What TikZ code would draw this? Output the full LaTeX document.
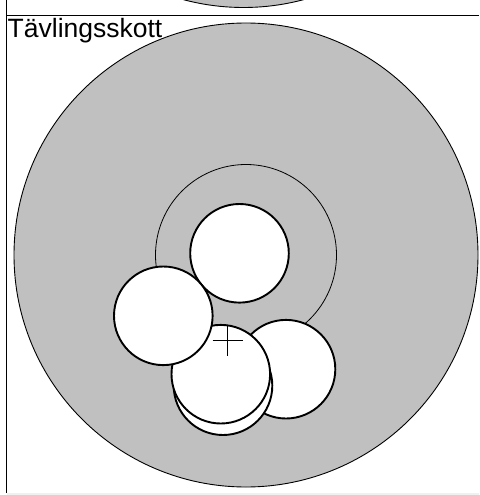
\documentclass[tikz,border=0pt]{standalone}
\usepackage{fontspec}
\setmainfont{Liberation Sans}
\definecolor{targetgray}{RGB}{192,192,192}
\definecolor{framegray}{RGB}{240,240,240}
\tikzset{
  target/.style={
    draw=black,
    fill=targetgray,
    line width=0.9pt,
  },
  ring/.style={
    draw=black,
    line width=0.8pt,
  },
  shot/.style={
    circle,
    draw=black,
    fill=white,
    line width=1.9pt,
    inner sep=0pt,
    minimum size=98.6pt,
  },
  mpicross/.style={draw=black, line width=0.9pt},
  frameline/.style={draw=black, line width=1.9pt},
  title/.style={font=\fontsize{26.5}{30}\selectfont, anchor=base west, inner sep=0pt},
}

\begin{document}
\begin{tikzpicture}[x=1pt, y=-1pt]
\useasboundingbox (0,0) rectangle (479,495);

% --- Previous target (bottom edge only) ---
\begin{scope}
  \clip (7,0) rectangle (479,15);
  \draw[target] (243.5,-224.5) circle (232);
\end{scope}

% --- Frame ---
\fill[framegray] (7,493) rectangle (479,495);
\draw[frameline] (6.5,0) -- (6.5,493);
\draw[frameline] (6.5,15.5) -- (479,15.5);

% --- Title ---
\node[title] (caption) at (7.5,37.7) {Tävlingsskott};

% --- Target ---
\coordinate (centre) at (246,255);
\draw[target] (centre) circle (232);
\draw[ring] (centre) circle (90.5);

% --- Shots ---
\node[shot] (shotc) at (286,369.2) {};
\node[shot] (shotd) at (223,385.7) {};
\node[shot] (shote) at (220.8,374.2) {};
\node[shot] (shota) at (239.5,253.3) {};
\node[shot] (shotb) at (163.3,315.8) {};

% --- Mean point of impact ---
\coordinate (mpi) at (227.8,340.3);
\draw[mpicross] ([xshift=-15.3pt]mpi) -- ([xshift=15.3pt]mpi);
\draw[mpicross] ([yshift=-15.3pt]mpi) -- ([yshift=15.3pt]mpi);

\end{tikzpicture}
\end{document}
